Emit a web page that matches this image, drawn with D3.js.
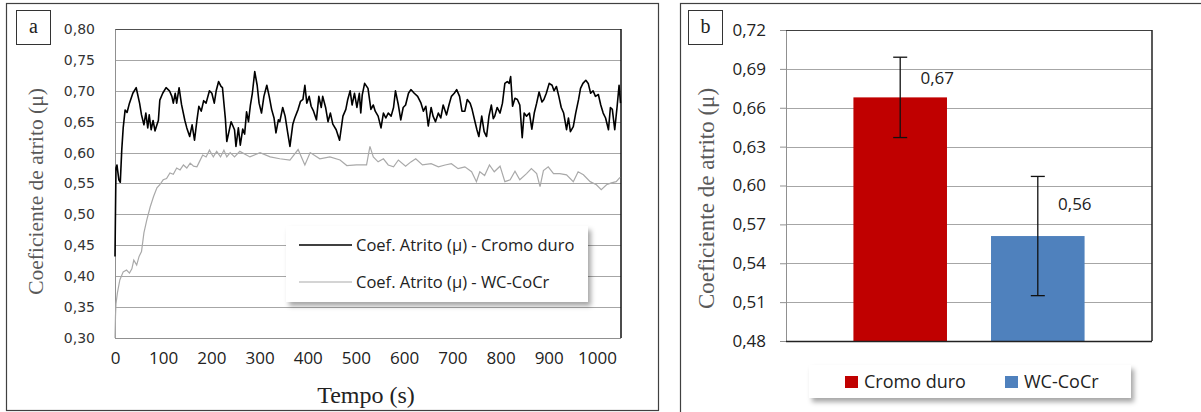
<!DOCTYPE html>
<html>
<head>
<meta charset="utf-8">
<script src="https://cdn.jsdelivr.net/npm/d3@7"></script>
<style>
  body { margin: 0; background: #fff; }
  svg { display: block; }
</style>
</head>
<body>
<svg id="chart" width="1201" height="412"></svg>
<script>
// ---- data: panel a (friction coefficient vs time) ----
const tCromo = [0,1,2,4,8,11,14,17,21,25,30,37,44,51,55,60,64,68,71,75,79,83,87,90,93,99,106,113,118,121,125,128,133,138,145,149,155,160,165,170,174,179,184,189,196,201,206,210,215,220,223,229,232,241,248,251,256,260,265,269,273,277,281,285,290,295,299,304,309,315,320,325,330,334,339,342,348,353,358,363,369,373,380,385,390,394,398,403,407,412,418,423,428,431,437,442,447,452,459,466,473,479,483,488,492,497,502,507,510,513,518,525,531,536,540,546,552,557,562,567,573,578,582,588,593,598,603,609,614,621,628,635,640,645,650,656,660,665,671,676,681,688,693,698,704,709,715,720,726,731,737,741,747,751,755,761,766,771,776,781,785,788,793,799,804,809,814,818,821,825,830,835,840,845,849,854,860,865,870,875,880,886,890,895,901,907,911,916,921,926,931,937,941,945,951,956,962,966,971,977,982,987,992,997,1003,1008,1013,1018,1024,1028,1032,1037,1042,1046,1049];
const muCromo = [0.432,0.505,0.575,0.580,0.556,0.552,0.604,0.640,0.669,0.665,0.680,0.696,0.705,0.680,0.661,0.645,0.664,0.640,0.661,0.637,0.652,0.635,0.645,0.652,0.685,0.696,0.705,0.700,0.691,0.680,0.696,0.680,0.705,0.678,0.652,0.640,0.626,0.645,0.620,0.652,0.675,0.667,0.684,0.680,0.700,0.696,0.680,0.700,0.715,0.707,0.705,0.655,0.618,0.650,0.637,0.610,0.640,0.612,0.638,0.630,0.666,0.650,0.677,0.696,0.731,0.709,0.680,0.664,0.691,0.709,0.691,0.670,0.656,0.632,0.653,0.650,0.673,0.659,0.634,0.610,0.646,0.656,0.670,0.683,0.686,0.709,0.680,0.691,0.675,0.667,0.653,0.691,0.673,0.691,0.673,0.650,0.664,0.646,0.637,0.620,0.659,0.670,0.686,0.700,0.677,0.696,0.673,0.696,0.664,0.693,0.712,0.704,0.670,0.677,0.667,0.659,0.640,0.664,0.656,0.664,0.659,0.673,0.700,0.677,0.653,0.673,0.677,0.696,0.702,0.696,0.691,0.680,0.667,0.675,0.643,0.673,0.659,0.650,0.664,0.656,0.677,0.661,0.677,0.691,0.696,0.702,0.691,0.667,0.667,0.686,0.680,0.670,0.650,0.637,0.626,0.659,0.634,0.626,0.659,0.677,0.655,0.659,0.673,0.664,0.680,0.712,0.715,0.712,0.723,0.675,0.688,0.686,0.677,0.624,0.664,0.659,0.664,0.638,0.664,0.680,0.698,0.682,0.686,0.696,0.712,0.709,0.700,0.707,0.691,0.673,0.664,0.637,0.656,0.634,0.642,0.664,0.686,0.704,0.712,0.717,0.712,0.696,0.700,0.691,0.694,0.677,0.664,0.656,0.637,0.673,0.670,0.637,0.675,0.709,0.680];

const tWC = [0,1,2,5,10,17,24,30,35,39,45,50,55,60,66,73,80,87,93,100,107,114,121,128,135,142,149,156,163,170,175,182,189,196,204,211,219,226,232,239,248,259,280,301,322,342,363,380,394,405,425,446,467,481,501,522,529,536,546,557,567,578,588,603,614,624,638,656,671,685,698,712,726,740,750,757,767,777,787,799,809,820,830,840,854,864,875,882,889,899,910,923,937,951,961,972,986,999,1009,1020,1030,1040,1048];
const muWC = [0.300,0.335,0.355,0.373,0.394,0.407,0.410,0.405,0.412,0.426,0.418,0.432,0.440,0.470,0.491,0.512,0.529,0.543,0.548,0.556,0.558,0.567,0.565,0.575,0.572,0.580,0.575,0.583,0.578,0.577,0.585,0.596,0.593,0.604,0.593,0.602,0.593,0.604,0.593,0.600,0.593,0.602,0.593,0.600,0.593,0.590,0.588,0.605,0.580,0.600,0.590,0.593,0.588,0.579,0.580,0.580,0.610,0.593,0.585,0.590,0.580,0.577,0.588,0.578,0.585,0.590,0.580,0.582,0.577,0.580,0.582,0.574,0.577,0.569,0.553,0.569,0.563,0.580,0.569,0.578,0.553,0.556,0.570,0.556,0.566,0.574,0.566,0.545,0.571,0.577,0.566,0.566,0.564,0.553,0.569,0.564,0.553,0.548,0.540,0.548,0.551,0.553,0.560];

const lineNames = ["Coef. Atrito (μ) - Cromo duro", "Coef. Atrito (μ) - WC-CoCr"];
const xTicksA = [0,100,200,300,400,500,600,700,800,900,1000];
const yTicksA = [0.30,0.35,0.40,0.45,0.50,0.55,0.60,0.65,0.70,0.75,0.80];

// ---- data: panel b (mean friction coefficient) ----
const barSeries = ["Cromo duro", "WC-CoCr"];
const barMeans = [0.668, 0.561];
const barErrors = [0.031, 0.046];
const barLabels = ["0,67", "0,56"];
const yTicksB = [0.48,0.51,0.54,0.57,0.60,0.63,0.66,0.69,0.72];

const svg = d3.select("#chart");
const fmt = v => d3.format(".2f")(v).replace(".", ",");

// shadow filter for legends
const defs = svg.append("defs");
defs.append("filter").attr("id", "shadow").attr("x", "-10%").attr("y", "-20%").attr("width", "130%").attr("height", "160%")
  .append("feDropShadow").attr("dx", 3).attr("dy", 4).attr("stdDeviation", 2.5).attr("flood-color", "#000").attr("flood-opacity", 0.35);

// ================= Panel a =================
svg.append("rect").attr("x", 6.5).attr("y", 3.5).attr("width", 652).attr("height", 407)
  .attr("fill", "none").attr("stroke", "#404040").attr("stroke-width", 1.2);
svg.append("rect").attr("x", 16.5).attr("y", 10.5).attr("width", 34).attr("height", 34)
  .attr("fill", "#fff").attr("stroke", "#333");
svg.append("text").attr("x", 33.5).attr("y", 33).attr("text-anchor", "middle")
  .style("font", "20px 'Liberation Serif'").attr("fill", "#222").text("a");

const ma = {left: 115, right: 621, top: 29, bottom: 338};
const xa = d3.scaleLinear().domain([0, 1050]).range([ma.left, ma.right]);
const ya = d3.scaleLinear().domain([0.30, 0.80]).range([ma.bottom, ma.top]);

const ga = svg.append("g");
// gridlines
ga.append("g").selectAll("line").data(yTicksA.slice(1, -1)).join("line")
  .attr("x1", ma.left).attr("x2", ma.right)
  .attr("y1", d => Math.round(ya(d)) + 0.5).attr("y2", d => Math.round(ya(d)) + 0.5)
  .attr("stroke", "#a6a6a6").attr("stroke-width", 1);
// plot frame
ga.append("line").attr("x1", ma.left).attr("x2", ma.right).attr("y1", ma.top + 0.5).attr("y2", ma.top + 0.5).attr("stroke", "#505050");
ga.append("line").attr("x1", ma.right).attr("x2", ma.right).attr("y1", ma.top).attr("y2", ma.bottom).attr("stroke", "#111").attr("stroke-width", 1.5);

const yAxisA = ga.append("g").attr("transform", `translate(${ma.left},0)`)
  .call(d3.axisLeft(ya).tickValues(yTicksA).tickFormat(fmt).tickSize(0).tickPadding(20));
yAxisA.select(".domain").attr("stroke", "#909090");
yAxisA.selectAll("text").style("font", "14px 'DejaVu Sans'").attr("fill", "#333");

const xAxisA = ga.append("g").attr("transform", `translate(0,${ma.bottom})`)
  .call(d3.axisBottom(xa).tickValues(xTicksA).tickFormat(d3.format("d")).tickSize(0).tickPadding(14));
xAxisA.select(".domain").attr("stroke", "#909090").attr("d", `M${ma.left},0.5H${ma.right}`);
xAxisA.selectAll("text").style("font", "17px 'Open Sans'").attr("fill", "#222");

// lines
const lineA = d3.line().x(d => xa(d[0])).y(d => ya(d[1]));
ga.append("path").datum(d3.zip(tWC, muWC)).attr("d", lineA)
  .attr("fill", "none").attr("stroke", "#a9a9a9").attr("stroke-width", 1.2);
ga.append("path").datum(d3.zip(tCromo, muCromo)).attr("d", lineA)
  .attr("fill", "none").attr("stroke", "#000").attr("stroke-width", 1.6).attr("stroke-linejoin", "round");

// axis titles
svg.append("text").attr("transform", `translate(43,${(ma.top + ma.bottom) / 2 + 8}) rotate(-90)`)
  .attr("text-anchor", "middle").style("font", "21.5px 'Liberation Serif'").attr("fill", "#595959")
  .text("Coeficiente de atrito (μ)");
svg.append("text").attr("x", (ma.left + ma.right) / 2 - 2).attr("y", 403).attr("text-anchor", "middle")
  .style("font", "24px 'Liberation Serif'").attr("fill", "#222").text("Tempo (s)");

// legend a
const legA = svg.append("g").attr("transform", "translate(286,226)");
legA.append("rect").attr("width", 302).attr("height", 76).attr("fill", "#fff").attr("filter", "url(#shadow)");
const legColors = ["#000", "#a9a9a9"];
legA.selectAll("g.item").data(lineNames).join("g").attr("class", "item")
  .attr("transform", (d, i) => `translate(0,${19 + i * 37})`)
  .each(function(d, i) {
    const g = d3.select(this);
    g.append("line").attr("x1", 13).attr("x2", 66).attr("stroke", legColors[i]).attr("stroke-width", i ? 1 : 1.3);
    g.append("text").attr("x", 70).attr("y", 6).style("font", "16.5px 'Open Sans'").attr("fill", "#222").text(d);
  });

// ================= Panel b =================
svg.append("rect").attr("x", 680.5).attr("y", 3.5).attr("width", 600).attr("height", 500)
  .attr("fill", "none").attr("stroke", "#404040").attr("stroke-width", 1.2);
svg.append("rect").attr("x", 688.5).attr("y", 10.5).attr("width", 34).attr("height", 34)
  .attr("fill", "#fff").attr("stroke", "#333");
svg.append("text").attr("x", 705.5).attr("y", 33).attr("text-anchor", "middle")
  .style("font", "20px 'Liberation Serif'").attr("fill", "#222").text("b");

const mb = {left: 786, right: 1152, top: 30, bottom: 341};
const xb = d3.scaleBand().domain(barSeries).range([mb.left, mb.right]).paddingInner(0.32).paddingOuter(0.49);
const yb = d3.scaleLinear().domain([0.48, 0.72]).range([mb.bottom, mb.top]);
const colorB = d3.scaleOrdinal().domain(barSeries).range(["#c00000", "#4f81bd"]);

const gb = svg.append("g");
gb.append("g").selectAll("line").data(yTicksB.slice(1, -1)).join("line")
  .attr("x1", mb.left).attr("x2", mb.right)
  .attr("y1", d => Math.round(yb(d)) + 0.5).attr("y2", d => Math.round(yb(d)) + 0.5)
  .attr("stroke", "#a6a6a6");

const yAxisB = gb.append("g").attr("transform", `translate(${mb.left},0)`)
  .call(d3.axisLeft(yb).tickValues(yTicksB).tickFormat(fmt).tickSize(6).tickSizeOuter(0).tickPadding(14));
yAxisB.select(".domain").attr("stroke", "#909090");
yAxisB.selectAll(".tick line").attr("stroke", "#909090");
yAxisB.selectAll("text").style("font", "17px 'Open Sans'").attr("fill", "#222");

gb.append("line").attr("x1", mb.left).attr("x2", mb.right).attr("y1", mb.top + 0.5).attr("y2", mb.top + 0.5).attr("stroke", "#404040");
gb.append("line").attr("x1", mb.right).attr("x2", mb.right).attr("y1", mb.top).attr("y2", mb.bottom).attr("stroke", "#222").attr("stroke-width", 1.5);

const barData = barSeries.map((s, i) => ({s, v: barMeans[i], e: barErrors[i], label: barLabels[i]}));
gb.selectAll("rect.bar").data(barData).join("rect").attr("class", "bar")
  .attr("x", d => xb(d.s)).attr("width", xb.bandwidth())
  .attr("y", d => yb(d.v)).attr("height", d => yb(0.48) - yb(d.v))
  .attr("fill", d => colorB(d.s));

gb.append("line").attr("x1", mb.left).attr("x2", mb.right).attr("y1", mb.bottom + 0.5).attr("y2", mb.bottom + 0.5).attr("stroke", "#222").attr("stroke-width", 1.5);

// error bars
const eb = gb.selectAll("g.err").data(barData).join("g").attr("class", "err")
  .attr("transform", d => `translate(${xb(d.s) + xb.bandwidth() / 2},0)`);
eb.append("line").attr("y1", d => yb(d.v + d.e)).attr("y2", d => yb(d.v - d.e)).attr("stroke", "#111").attr("stroke-width", 1.3);
eb.append("line").attr("x1", -7).attr("x2", 7).attr("y1", d => yb(d.v + d.e)).attr("y2", d => yb(d.v + d.e)).attr("stroke", "#111").attr("stroke-width", 1.3);
eb.append("line").attr("x1", -7).attr("x2", 7).attr("y1", d => yb(d.v - d.e)).attr("y2", d => yb(d.v - d.e)).attr("stroke", "#111").attr("stroke-width", 1.3);

// data labels
const labelDy = [-13, -26];
eb.append("text").attr("x", 37).attr("y", (d, i) => yb(d.v) + labelDy[i]).attr("text-anchor", "middle")
  .style("font", "17px 'Open Sans'").attr("fill", "#222").text(d => d.label);

// y title b
svg.append("text").attr("transform", `translate(714,${(mb.top + mb.bottom) / 2 + 13}) rotate(-90)`)
  .attr("text-anchor", "middle").style("font", "23px 'Liberation Serif'").attr("fill", "#595959")
  .text("Coeficiente de atrito (μ)");

// legend b
const legB = svg.append("g").attr("transform", "translate(809,365)");
legB.append("rect").attr("width", 322).attr("height", 33).attr("fill", "#fff").attr("filter", "url(#shadow)");
const legItems = legB.selectAll("g.item").data(barSeries).join("g").attr("class", "item")
  .attr("transform", (d, i) => `translate(${36 + i * 160},11)`);
legItems.append("rect").attr("width", 13).attr("height", 12).attr("fill", d => colorB(d));
legItems.append("text").attr("x", 19).attr("y", 12).style("font", "18px 'Open Sans'").attr("fill", "#222").text(d => d);
</script>
</body>
</html>
